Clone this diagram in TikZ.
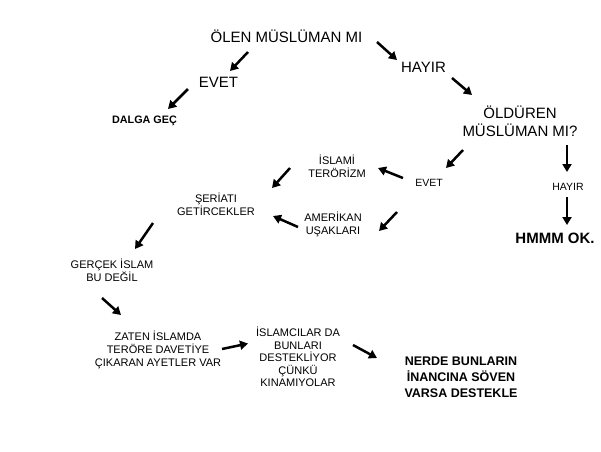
\documentclass[tikz,border=0pt]{standalone}
\usepackage{fontspec}
\setmainfont{Liberation Sans}
\usetikzlibrary{arrows.meta}
\tikzset{
  txt/.style={inner sep=0pt, align=center, font=\fontsize{11}{13}\selectfont},
  big/.style={inner sep=0pt, align=center, font=\fontsize{15}{18}\selectfont},
  bigb/.style={inner sep=0pt, align=center, font=\bfseries\fontsize{15}{18}\selectfont},
  midb/.style={inner sep=0pt, align=center, font=\bfseries\fontsize{12.5}{16}\selectfont},
  smallb/.style={inner sep=0pt, align=center, font=\bfseries\fontsize{10.8}{13}\selectfont},
  arr/.style={line width=2.5pt, -{Triangle[length=8pt,width=9pt]}}
}
\begin{document}
\begin{tikzpicture}[x=1pt,y=-1pt]
\useasboundingbox (0,0) rectangle (601,451);
% nodes
\node[big] (olen) at (286.5,36) {ÖLEN MÜSLÜMAN MI};
\node[big] (evet1) at (218.5,82) {EVET};
\node[big] (hayir1) at (423.5,67.5) {HAYIR};
\node[smallb] (dalga) at (144.5,121) {DALGA GEÇ};
\node[big] (oldu) at (520,121) {ÖLDÜREN\\MÜSLÜMAN MI?};
\node[txt,font=\fontsize{10.5}{13}\selectfont] (evet2) at (429,183) {EVET};
\node[txt,font=\fontsize{10.5}{13}\selectfont] (hayir2) at (568,187) {HAYIR};
\node[bigb] (hmmm) at (555,238) {HMMM OK.};
\node[txt] (islami) at (337,166) {İSLAMİ\\TERÖRİZM};
\node[txt] (amerikan) at (333,224) {AMERİKAN\\UŞAKLARI};
\node[txt] (seriati) at (216,204) {ŞERİATI\\GETİRCEKLER};
\node[txt] (gercek) at (112,270) {GERÇEK İSLAM\\BU DEĞİL};
\node[txt] (zaten) at (158,350) {ZATEN İSLAMDA\\TERÖRE DAVETİYE\\ÇIKARAN AYETLER VAR};
\node[txt,font=\fontsize{11}{12.6}\selectfont] (islamci) at (298,357) {İSLAMCILAR DA\\BUNLARI\\DESTEKLİYOR\\ÇÜNKÜ\\KINAMIYOLAR};
\node[midb] (nerde) at (461,377) {NERDE BUNLARIN\\İNANCINA SÖVEN\\VARSA DESTEKLE};
% arrow end points
\coordinate (a1s) at (248,52);  \coordinate (a1e) at (230,71);
\coordinate (a2s) at (377,42);  \coordinate (a2e) at (397,60);
\coordinate (a3s) at (452,78);  \coordinate (a3e) at (472,95);
\coordinate (a4s) at (188,89);  \coordinate (a4e) at (168,109);
\coordinate (a5s) at (463,150); \coordinate (a5e) at (446,168);
\coordinate (a6s) at (567,145); \coordinate (a6e) at (567,172);
\coordinate (a7s) at (567,197); \coordinate (a7e) at (567,225);
\coordinate (a8s) at (403,178); \coordinate (a8e) at (378,168);
\coordinate (a9s) at (397,212); \coordinate (a9e) at (379,231);
\coordinate (a10s) at (290,168); \coordinate (a10e) at (272,188);
\coordinate (a11s) at (298,227); \coordinate (a11e) at (273,216);
\coordinate (a12s) at (153,223); \coordinate (a12e) at (135,249);
\coordinate (a13s) at (102,298); \coordinate (a13e) at (121,315);
\coordinate (a14s) at (222,349); \coordinate (a14e) at (248,343.5);
\coordinate (a15s) at (353,345); \coordinate (a15e) at (377,358);
% arrows
\foreach \i in {1,...,15} {\draw[arr] (a\i s) -- (a\i e);}
\end{tikzpicture}
\end{document}
